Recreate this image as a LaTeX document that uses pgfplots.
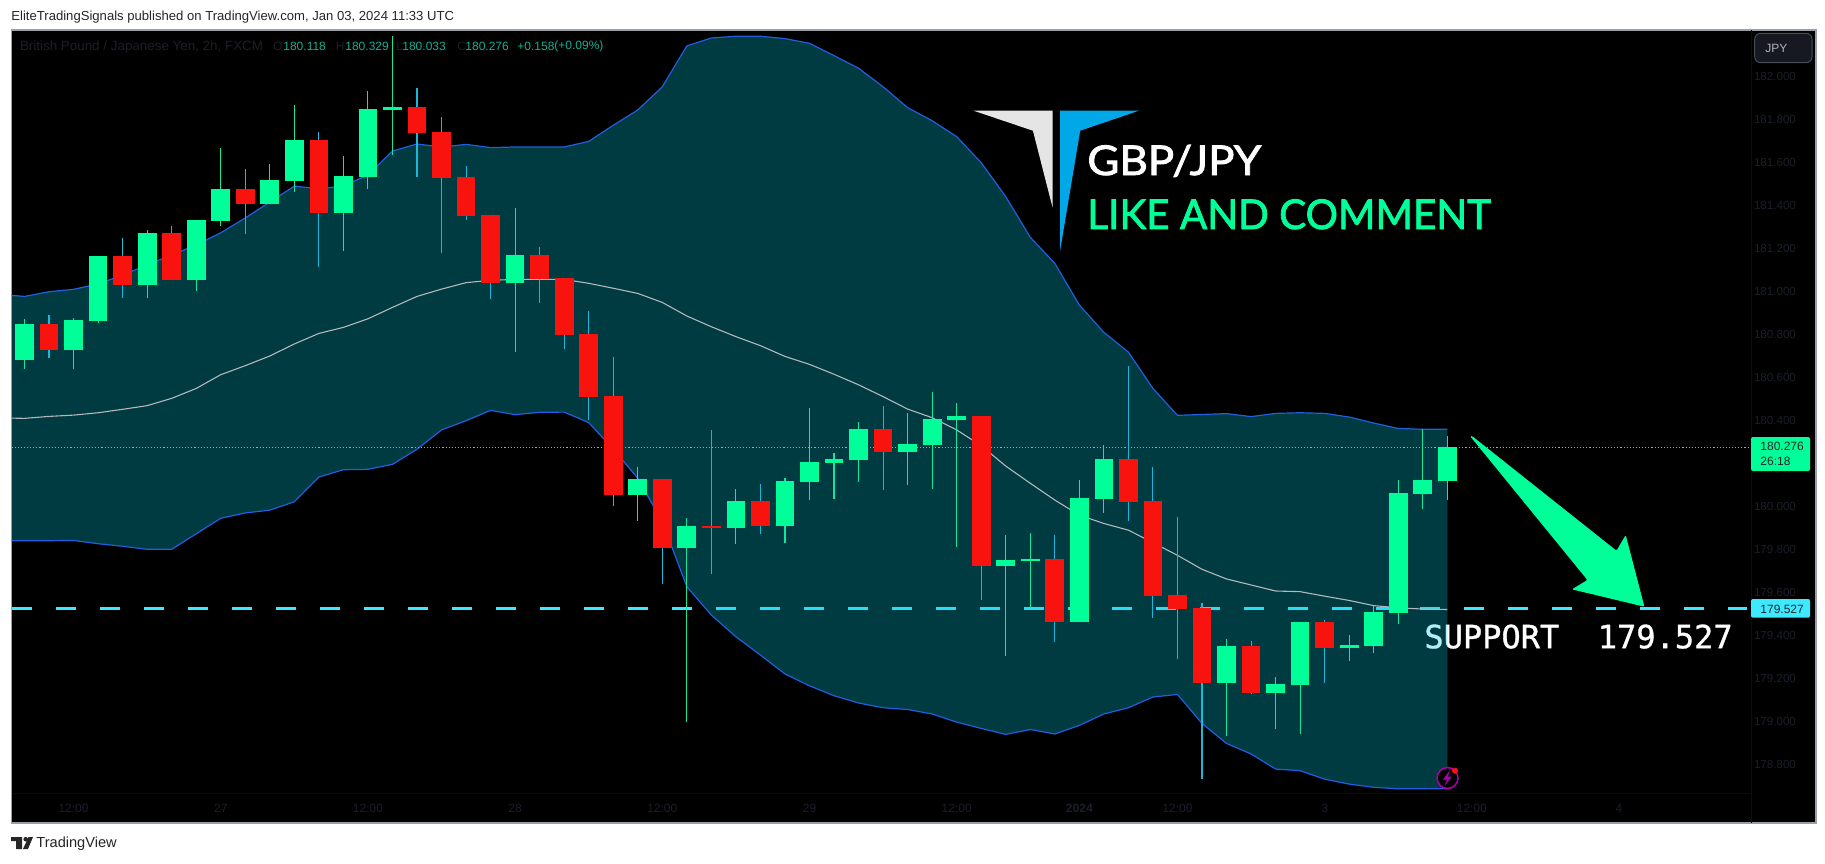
\documentclass[border=0pt]{standalone}
\usepackage{fontspec}
\setmainfont{Liberation Sans}
\newfontfamily\titlefont[FakeBold=2]{Lato}
\newfontfamily\monofont[FakeBold=1]{DejaVu Sans Mono}
\usepackage{pgfplots}
\usepackage{pgfplotstable}
\pgfplotsset{compat=1.18}
\definecolor{cgreen}{HTML}{00FF99}
\definecolor{cred}{HTML}{F8130E}
\definecolor{wgreen}{HTML}{10E8A2}
\definecolor{wred}{HTML}{1CB8DC}
\definecolor{bandline}{HTML}{1F5FE0}
\definecolor{basisline}{HTML}{B4B7BE}
\definecolor{bandfill}{HTML}{00C4DC}
\definecolor{faint}{HTML}{1C1F2A}
\definecolor{support}{HTML}{3DE9FF}
\definecolor{frameline}{HTML}{9A9EA8}
\definecolor{ohlc}{HTML}{12AF94}
\definecolor{logoblue}{HTML}{00A8E8}
\pgfplotstableread{
i h t b l
0 180.873 180.850 180.682 180.640
2 180.876 180.868 180.729 180.640
3 181.166 181.166 180.864 180.854
5 181.287 181.273 181.031 180.971
7 181.333 181.333 181.054 181.003
8 181.668 181.477 181.329 181.305
10 181.594 181.519 181.408 181.408
11 181.868 181.705 181.515 181.464
13 181.631 181.538 181.366 181.189
14 181.933 181.850 181.533 181.477
15 182.189 181.859 181.845 181.636
20 181.389 181.171 181.040 180.719
25 180.184 180.129 180.054 179.933
27 179.947 179.910 179.808 178.998
29 180.082 180.026 179.901 179.826
31 180.133 180.119 179.910 179.831
32 180.459 180.208 180.115 180.031
33 180.250 180.222 180.203 180.036
34 180.394 180.361 180.217 180.115
36 180.436 180.291 180.254 180.101
37 180.533 180.408 180.287 180.082
38 180.482 180.422 180.403 179.812
40 179.868 179.752 179.724 179.305
41 179.878 179.757 179.747 179.529
43 180.124 180.040 179.464 179.464
44 180.287 180.222 180.036 179.971
49 179.385 179.352 179.180 178.933
51 179.208 179.175 179.133 178.966
52 179.464 179.464 179.171 178.943
54 179.403 179.357 179.343 179.282
55 179.538 179.510 179.352 179.319
56 180.124 180.064 179.505 179.454
57 180.360 180.124 180.059 179.989
58 180.329 180.276 180.118 180.033
}\greencandles
\pgfplotstableread{
i h t b l
1 180.892 180.850 180.729 180.691
4 181.250 181.166 181.031 180.971
6 181.305 181.273 181.054 181.054
9 181.571 181.477 181.408 181.268
12 181.743 181.705 181.366 181.115
16 181.947 181.859 181.738 181.533
17 181.812 181.743 181.529 181.180
18 181.584 181.533 181.352 181.333
19 181.357 181.357 181.040 180.966
21 181.208 181.171 181.059 180.947
22 181.064 181.064 180.798 180.733
23 180.910 180.803 180.510 180.403
24 180.696 180.515 180.054 180.003
26 180.129 180.129 179.808 179.640
28 180.357 179.910 179.901 179.687
30 180.105 180.026 179.910 179.873
35 180.468 180.361 180.254 180.078
39 180.422 180.422 179.724 179.566
42 179.868 179.757 179.464 179.371
45 180.656 180.222 180.022 179.933
46 180.184 180.026 179.584 179.482
47 179.952 179.589 179.524 179.291
48 179.552 179.529 179.180 178.733
50 179.375 179.352 179.133 179.129
53 179.473 179.464 179.343 179.180
}\redcandles
\pgfplotstableread{
i up mid lo
-0.53 180.983 180.412 179.842
0 180.978 180.411 179.842
1 181.000 180.420 179.842
2 181.011 180.426 179.843
3 181.036 180.437 179.828
4 181.077 180.453 179.816
5 181.124 180.470 179.802
6 181.171 180.504 179.802
7 181.217 180.550 179.874
8 181.274 180.614 179.946
9 181.343 180.656 179.971
10 181.417 180.701 179.984
11 181.491 180.757 180.023
12 181.479 180.806 180.138
13 181.491 180.834 180.172
14 181.543 180.874 180.174
15 181.654 180.927 180.197
16 181.687 180.978 180.267
17 181.673 181.012 180.357
18 181.685 181.042 180.400
19 181.670 181.053 180.448
20 181.673 181.057 180.428
21 181.673 181.057 180.439
22 181.673 181.057 180.440
23 181.699 181.039 180.391
24 181.774 181.016 180.268
25 181.845 180.992 180.132
26 181.953 180.950 179.930
27 182.143 180.887 179.628
28 182.180 180.837 179.496
29 182.188 180.791 179.395
30 182.188 180.749 179.310
31 182.177 180.699 179.222
32 182.155 180.662 179.167
33 182.098 180.616 179.121
34 182.039 180.567 179.087
35 181.953 180.512 179.065
36 181.856 180.454 179.057
37 181.795 180.414 179.036
38 181.721 180.357 178.998
39 181.600 180.284 178.969
40 181.442 180.189 178.941
41 181.253 180.109 178.964
42 181.132 180.031 178.943
43 180.938 179.961 178.983
44 180.811 179.922 179.036
45 180.719 179.891 179.065
46 180.550 179.833 179.115
47 180.425 179.774 179.127
48 180.429 179.709 178.992
49 180.433 179.664 178.899
50 180.419 179.636 178.850
51 180.434 179.608 178.780
52 180.437 179.605 178.772
53 180.434 179.584 178.733
54 180.417 179.564 178.710
55 180.389 179.540 178.695
56 180.364 179.530 178.688
57 180.360 179.524 178.688
58 180.360 179.522 178.688
}\bands
\pgfplotstableread{
i p
-0.53 180.983
0 180.978
1 181.000
2 181.011
3 181.036
4 181.077
5 181.124
6 181.171
7 181.217
8 181.274
9 181.343
10 181.417
11 181.491
12 181.479
13 181.491
14 181.543
15 181.654
16 181.687
17 181.673
18 181.685
19 181.670
20 181.673
21 181.673
22 181.673
23 181.699
24 181.774
25 181.845
26 181.953
27 182.143
28 182.180
29 182.188
30 182.188
31 182.177
32 182.155
33 182.098
34 182.039
35 181.953
36 181.856
37 181.795
38 181.721
39 181.600
40 181.442
41 181.253
42 181.132
43 180.938
44 180.811
45 180.719
46 180.550
47 180.425
48 180.429
49 180.433
50 180.419
51 180.434
52 180.437
53 180.434
54 180.417
55 180.389
56 180.364
57 180.360
58 180.360
58 178.688
57 178.688
56 178.688
55 178.695
54 178.710
53 178.733
52 178.772
51 178.780
50 178.850
49 178.899
48 178.992
47 179.127
46 179.115
45 179.065
44 179.036
43 178.983
42 178.943
41 178.964
40 178.941
39 178.969
38 178.998
37 179.036
36 179.057
35 179.065
34 179.087
33 179.121
32 179.167
31 179.222
30 179.310
29 179.395
28 179.496
27 179.628
26 179.930
25 180.132
24 180.268
23 180.391
22 180.440
21 180.439
20 180.428
19 180.448
18 180.400
17 180.357
16 180.267
15 180.197
14 180.174
13 180.172
12 180.138
11 180.023
10 179.984
9 179.971
8 179.946
7 179.874
6 179.802
5 179.802
4 179.816
3 179.828
2 179.843
1 179.842
0 179.842
-0.53 179.842
}\bandarea
\pgfplotsset{
 candlewick/.style={draw=none,mark=none,forget plot,
   error bars/y dir=both,error bars/y explicit,error bars/error mark=none,
   error bars/error bar style={draw=#1,line width=0.55pt,solid}},
 candlebody/.style={draw=none,mark=none,forget plot,
   error bars/y dir=plus,error bars/y explicit,error bars/error mark=none,
   error bars/error bar style={draw=#1,line width=9.35pt,solid}},
}
\begin{document}
\begin{tikzpicture}
\fill[white] (0,0) rectangle (912.5pt,-431.5pt);
\begin{axis}[
 at={(5.75pt,-411.5pt)},anchor=south west,
 scale only axis,width=902.25pt,height=396.5pt,
 xmin=-0.53,xmax=73.03,ymin=178.529,ymax=182.217,
 axis background/.style={fill=black},
 axis line style={draw=frameline,line width=0.6pt},
 major tick length=0pt,
 xtick={2,8,14,20,26,32,38,43,47,53,59,65},
 xticklabels={12:00,27,12:00,28,12:00,29,12:00,\textbf{2024},12:00,3,12:00,4},
 ytick={178.8,179,179.2,179.4,179.6,179.8,180,180.4,180.6,180.8,181,181.2,181.4,181.6,181.8,182},
 yticklabel pos=right,
 /pgf/number format/assume math mode=true,
 /pgf/number format/fixed,/pgf/number format/fixed zerofill,/pgf/number format/precision=3,/pgf/number format/1000 sep={},
 x tick label style={font=\fontsize{6}{7}\selectfont,text=faint,anchor=center,yshift=7.15pt},
 y tick label style={font=\fontsize{5.8}{7}\selectfont,text=faint,anchor=east,xshift=-6.5pt},
 clip=true,
]
% faint scale separators
\addplot[draw=black!95!white,line width=0.4pt,forget plot] coordinates {(70.39,178.529) (70.39,182.217)};
\addplot[draw=black!95!white,line width=0.4pt,forget plot] coordinates {(-0.53,178.668) (70.39,178.668)};
% support level and its text lie under the band fill
\addplot[draw=support,line width=1.9pt,dash pattern=on 10pt off 12pt,forget plot] coordinates {(-0.53,179.527) (70.23,179.527)};
\node[anchor=west,inner sep=0pt,text=white,font=\fontsize{16}{18}\selectfont\monofont] at (axis cs:57.05,179.396) {SUPPORT~~179.527};
% Bollinger bands
\addplot[fill=bandfill,fill opacity=0.3,draw=none,forget plot] table[x=i,y=p] {\bandarea} -- cycle;
\addplot[draw=bandline,line width=0.6pt,forget plot] table[x=i,y=up] {\bands};
\addplot[draw=bandline,line width=0.6pt,forget plot] table[x=i,y=lo] {\bands};
\addplot[draw=basisline,line width=0.55pt,forget plot] table[x=i,y=mid] {\bands};
% last price
\addplot[draw=cgreen,line width=0.55pt,dash pattern=on 0.55pt off 1pt,forget plot] coordinates {(-0.53,180.276) (70.39,180.276)};
% candles
\addplot[candlewick=wgreen] table[x=i,y=b,y error plus expr=\thisrow{h}-\thisrow{b},y error minus expr=\thisrow{b}-\thisrow{l}] {\greencandles};
\addplot[candlewick=wred] table[x=i,y=b,y error plus expr=\thisrow{h}-\thisrow{b},y error minus expr=\thisrow{b}-\thisrow{l}] {\redcandles};
\addplot[candlebody=cgreen] table[x=i,y=b,y error plus expr=\thisrow{t}-\thisrow{b}] {\greencandles};
\addplot[candlebody=cred] table[x=i,y=b,y error plus expr=\thisrow{t}-\thisrow{b}] {\redcandles};
\end{axis}
\begin{scope}[x=0.5pt,y=-0.5pt]
% header and footer
\node[anchor=west,inner sep=0pt,text=black!85,font=\fontsize{6.55}{7}\selectfont] at (11,16.7) {EliteTradingSignals published on TradingView.com, Jan 03, 2024 11:33 UTC};
\fill[black!85!white] (11,837) rectangle (22,841) (16,837) rectangle (22,849);
\fill[black!85!white] (25.7,839.2) circle (2.3);
\fill[black!85!white] (28.5,837) -- (33,837) -- (28,849) -- (23,849) -- cycle;
\node[anchor=west,inner sep=0pt,text=black!85,font=\fontsize{7.3}{8}\selectfont] at (36,844) {TradingView};
% legend
\begin{scope}[every node/.style={anchor=west,inner sep=0pt,font=\fontsize{6}{8}\selectfont}]
\node[text=faint,font=\fontsize{6.7}{8}\selectfont] at (19.6,46.7) {British Pound / Japanese Yen, 2h, FXCM};
\node[text=faint] at (272.6,46.7) {O};
\node[text=ohlc] at (283,46.7) {180.118};
\node[text=faint] at (335.5,46.7) {H};
\node[text=ohlc] at (345,46.7) {180.329};
\node[text=faint] at (396,46.7) {L};
\node[text=ohlc] at (402,46.7) {180.033};
\node[text=faint] at (457,46.7) {C};
\node[text=ohlc] at (465,46.7) {180.276};
\node[text=ohlc] at (517,46.7) {+0.158};
\node[text=ohlc] at (554,46.7) {(+0.09\%)};
\end{scope}
% JPY button
\draw[draw=faint!80!white,fill=faint!80!black,rounded corners=3,line width=0.5pt] (1754.7,33.3) rectangle (1812,62.7);
\node[anchor=west,inner sep=0pt,text=black!30!white,font=\fontsize{6}{7}\selectfont] at (1765,48) {JPY};
% price tags
\fill[cgreen,rounded corners=1] (1751,437) rectangle (1810,471);
\node[anchor=west,inner sep=0pt,text=black!85,font=\fontsize{6}{7}\selectfont] at (1760,446.7) {180.276};
\node[anchor=west,inner sep=0pt,text=black!85,font=\fontsize{6}{7}\selectfont] at (1760,461.7) {26:18};
\fill[support,rounded corners=1] (1751,599) rectangle (1810,617.7);
\node[anchor=west,inner sep=0pt,text=black!85,font=\fontsize{6}{7}\selectfont] at (1760,609) {179.527};
% arrow
\fill[cgreen,rounded corners=0.6] (1470,436) -- (1472,436) -- (1616.5,550.7) -- (1625.7,535) -- (1644.4,606.7) -- (1571.9,589.3) -- (1587.4,580) -- cycle;
% logo and titles
\fill[black!10!white] (973.6,110.7) -- (1052.5,110.7) -- (1052.5,207.3) -- (1032.9,130.7) -- cycle;
\fill[logoblue] (1060.2,110.7) -- (1139,110.7) -- (1080.2,130.7) -- (1060.2,250) -- cycle;
\node[anchor=base west,inner sep=0pt,text=white,font=\fontsize{20.5}{24}\selectfont\titlefont] at (1087,175) {\scalebox{1.07}[1]{GBP/JPY}};
\node[anchor=base west,inner sep=0pt,text=cgreen,font=\fontsize{20.5}{24}\selectfont\titlefont] at (1087,229) {\scalebox{0.985}[1]{LIKE AND COMMENT}};
% alert icon
\draw[draw=violet!70!magenta,fill=black,line width=0.8pt] (1447.5,778) circle (10.5);
\fill[violet!70!magenta] (1450,770) -- (1443,779.5) -- (1447,779.5) -- (1444.5,786) -- (1452,776.5) -- (1448,776.5) -- cycle;
\fill[cred] (1455,770.7) circle (3);
\end{scope}
\end{tikzpicture}
\end{document}
